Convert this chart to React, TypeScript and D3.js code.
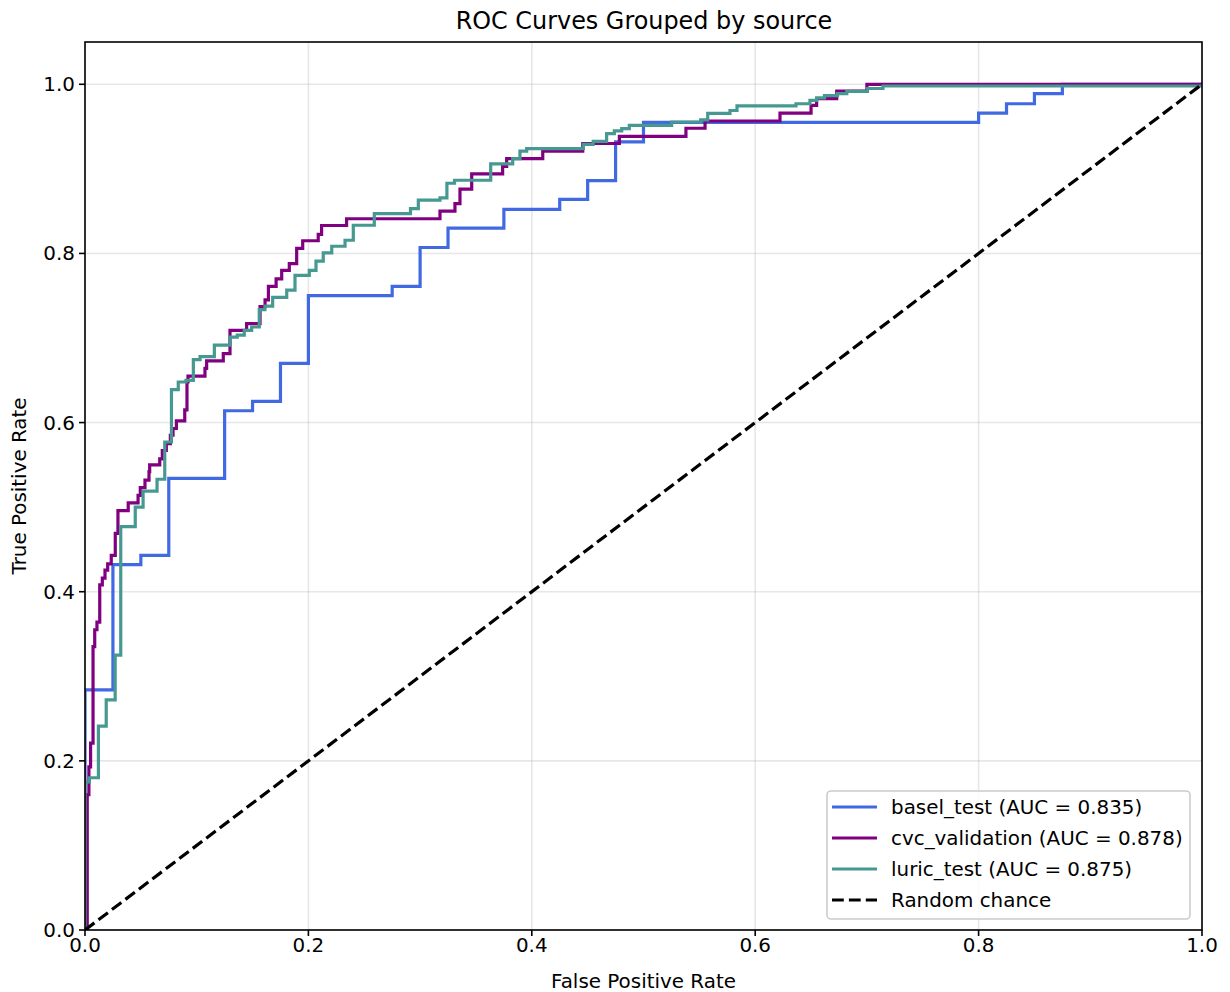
import React from 'react';
import * as d3 from 'd3';

// ROC points: at each fpr the tpr jumps to the given value
const baselFpr = [0, 0, 0.025, 0.05, 0.075, 0.125, 0.15, 0.175, 0.2, 0.275, 0.3, 0.325, 0.375, 0.425, 0.45, 0.475, 0.5, 0.8, 0.825, 0.85, 0.875, 1.0];
const baselTpr = [0, 0.284, 0.432, 0.443, 0.534, 0.614, 0.625, 0.670, 0.75, 0.761, 0.807, 0.830, 0.852, 0.864, 0.886, 0.932, 0.955, 0.966, 0.977, 0.989, 1.0, 1.0];

const cvcFpr = [0, 0.002, 0.0035, 0.005, 0.0072, 0.0087, 0.0107, 0.0132, 0.0155, 0.0179, 0.0203, 0.0235, 0.0271, 0.0295, 0.0387, 0.0475, 0.0495, 0.0537, 0.0573, 0.0579, 0.0669, 0.0692, 0.0728, 0.0764, 0.0788, 0.0818, 0.0893, 0.0913, 0.0922, 0.1074, 0.1089, 0.1238, 0.1298, 0.1447, 0.1567, 0.1612, 0.1642, 0.1711, 0.1761, 0.1829, 0.1895, 0.1949, 0.2088, 0.2118, 0.2342, 0.3178, 0.3312, 0.3357, 0.3462, 0.3739, 0.3775, 0.4098, 0.4456, 0.4784, 0.538, 0.5551, 0.6222, 0.65, 0.655, 0.673, 0.7, 1.0];
const cvcTpr = [0, 0.16, 0.193, 0.221, 0.335, 0.355, 0.364, 0.408, 0.416, 0.4255, 0.433, 0.443, 0.469, 0.496, 0.505, 0.514, 0.523, 0.532, 0.542, 0.55, 0.557, 0.567, 0.575, 0.585, 0.593, 0.602, 0.615, 0.648, 0.655, 0.664, 0.673, 0.6816, 0.709, 0.717, 0.737, 0.745, 0.761, 0.770, 0.780, 0.788, 0.806, 0.815, 0.8225, 0.833, 0.841, 0.850, 0.859, 0.876, 0.894, 0.903, 0.912, 0.921, 0.930, 0.9385, 0.948, 0.9566, 0.966, 0.975, 0.983, 0.992, 1.0, 1.0];

const luricFpr = [0, 0, 0.004, 0.012, 0.019, 0.027, 0.032, 0.045, 0.052, 0.0645, 0.0714, 0.0774, 0.0835, 0.0904, 0.097, 0.103, 0.1158, 0.1298, 0.1363, 0.1426, 0.1492, 0.156, 0.1611, 0.168, 0.1806, 0.188, 0.2008, 0.2068, 0.2133, 0.2209, 0.2328, 0.2402, 0.259, 0.2914, 0.2984, 0.3178, 0.324, 0.3308, 0.3632, 0.3829, 0.3894, 0.3954, 0.4461, 0.455, 0.467, 0.4739, 0.4805, 0.4873, 0.5252, 0.5512, 0.5575, 0.5774, 0.5837, 0.6365, 0.649, 0.655, 0.662, 0.6737, 0.682, 0.7005, 0.7144, 1.0];
const luricTpr = [0, 0.175, 0.18, 0.241, 0.272, 0.325, 0.477, 0.5, 0.519, 0.533, 0.577, 0.639, 0.648, 0.65, 0.6745, 0.678, 0.6915, 0.701, 0.7033, 0.709, 0.713, 0.7336, 0.7376, 0.748, 0.7565, 0.774, 0.78, 0.7908, 0.8006, 0.8085, 0.8156, 0.8333, 0.847, 0.853, 0.863, 0.8656, 0.883, 0.8865, 0.906, 0.912, 0.921, 0.924, 0.929, 0.9326, 0.9417, 0.9448, 0.9475, 0.9515, 0.9554, 0.958, 0.9655, 0.969, 0.9745, 0.977, 0.981, 0.984, 0.9865, 0.989, 0.9915, 0.995, 0.998, 1.0];

const seriesNames = ['basel_test', 'cvc_validation', 'luric_test'];
const seriesAuc = ['0.835', '0.878', '0.875'];
const seriesColors = ['#4169e1', '#800080', '#469990'];
const ticks = [0, 0.2, 0.4, 0.6, 0.8, 1.0];

const W = 1230, H = 992;
const left = 85, right = 1202, top = 42, bottom = 930;
const font = 'DejaVu Sans, sans-serif';
const fs = 19.9;

export default function App() {
  const x = d3.scaleLinear().domain([0, 1]).range([left, right]);
  const y = d3.scaleLinear().domain([0, 1.05]).range([bottom, top]);

  const curves = [
    d3.zip(baselFpr, baselTpr),
    d3.zip(cvcFpr, cvcTpr),
    d3.zip(luricFpr, luricTpr),
  ];

  const line = d3.line<number[]>()
    .x(d => x(d[0]))
    .y(d => y(d[1]))
    .curve(d3.curveStepAfter);

  const diag = d3.line<number[]>().x(d => x(d[0])).y(d => y(d[1]));

  const legX = 827, legY = 791, legW = 363, legH = 128, rowH = 31;

  return (
    <svg width={W} height={H} style={{ position: 'absolute', left: 0, top: 0, background: '#fff' }} fontFamily={font}>
      <defs>
        <clipPath id="plot">
          <rect x={left} y={top} width={right - left} height={bottom - top} />
        </clipPath>
      </defs>

      {/* grid */}
      {ticks.map(t => (
        <g key={'g' + t} stroke="#b0b0b0" strokeOpacity={0.3} strokeWidth={1.6}>
          <line x1={x(t)} x2={x(t)} y1={top} y2={bottom} />
          <line x1={left} x2={right} y1={y(t)} y2={y(t)} />
        </g>
      ))}

      <g clipPath="url(#plot)">
        {curves.map((c, i) => (
          <path key={i} d={line(c) || ''} fill="none" stroke={seriesColors[i]} strokeWidth={3.2} />
        ))}
        <path d={diag([[0, 0], [1, 1]]) || ''} fill="none" stroke="#000" strokeWidth={3.2} strokeDasharray="11.8,5.1" />
      </g>

      {/* spines */}
      <rect x={left} y={top} width={right - left} height={bottom - top} fill="none" stroke="#000" strokeWidth={1.6} />

      {/* ticks */}
      {ticks.map(t => (
        <g key={'t' + t} fontSize={fs} fill="#000">
          <line x1={x(t)} x2={x(t)} y1={bottom} y2={bottom + 6} stroke="#000" strokeWidth={1.6} />
          <text x={x(t)} y={bottom + 22} textAnchor="middle">{t.toFixed(1)}</text>
          <line x1={left - 6} x2={left} y1={y(t)} y2={y(t)} stroke="#000" strokeWidth={1.6} />
          <text x={left - 10} y={y(t) + 7} textAnchor="end">{t.toFixed(1)}</text>
        </g>
      ))}

      <text x={(left + right) / 2} y={988} textAnchor="middle" fontSize={fs}>False Positive Rate</text>
      <text transform={`translate(26,${(top + bottom) / 2}) rotate(-90)`} textAnchor="middle" fontSize={fs}>True Positive Rate</text>
      <text x={(left + right) / 2 + 0.5} y={29} textAnchor="middle" fontSize={23.9}>ROC Curves Grouped by source</text>

      {/* legend */}
      <rect x={legX} y={legY} width={legW} height={legH} rx={4} fill="#fff" fillOpacity={0.8} stroke="#cccccc" strokeWidth={1.6} />
      {seriesNames.map((n, i) => (
        <g key={n}>
          <line x1={832} x2={877} y1={legY + 16 + i * rowH} y2={legY + 16 + i * rowH} stroke={seriesColors[i]} strokeWidth={3.2} />
          <text x={891} y={legY + 23 + i * rowH} fontSize={fs}>{`${n} (AUC = ${seriesAuc[i]})`}</text>
        </g>
      ))}
      <line x1={832} x2={877} y1={legY + 16 + 3 * rowH} y2={legY + 16 + 3 * rowH} stroke="#000" strokeWidth={3.2} strokeDasharray="11.8,5.1" />
      <text x={891} y={legY + 23 + 3 * rowH} fontSize={fs}>Random chance</text>
    </svg>
  );
}
